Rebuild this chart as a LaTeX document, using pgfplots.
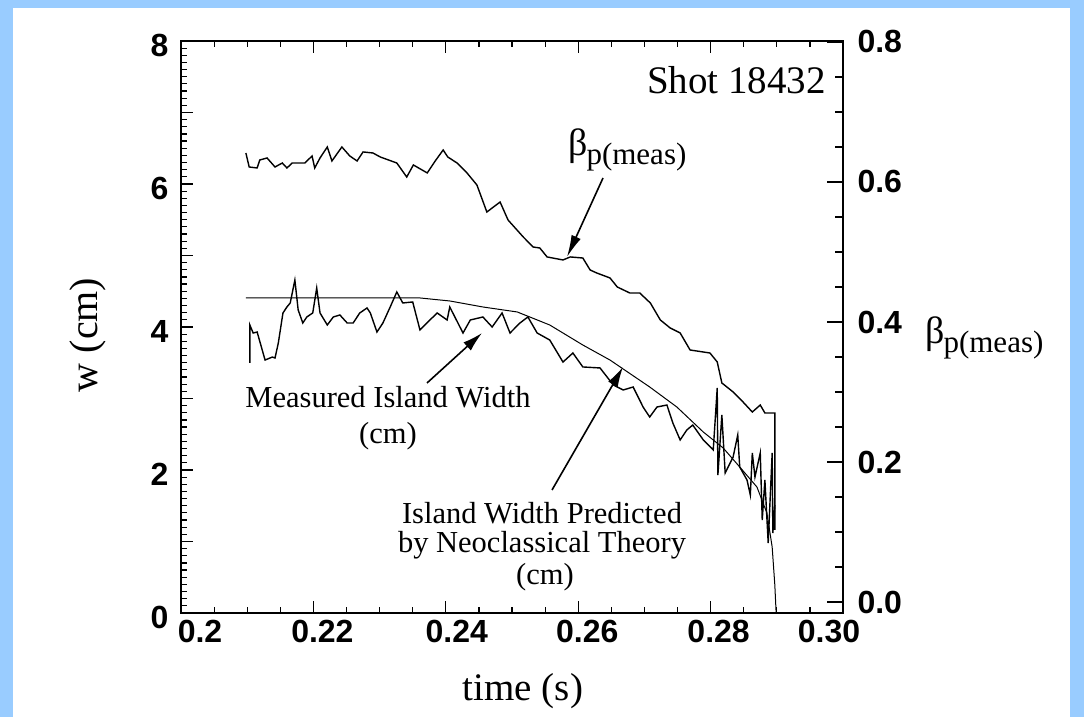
\documentclass[border=0pt]{standalone}
\usepackage{pgfplots}
\pgfplotsset{compat=1.18}
\usepackage{fontspec}
\setmainfont{Liberation Serif}
\setsansfont{Liberation Sans}
\usetikzlibrary{arrows.meta}
\definecolor{bgblue}{RGB}{153,204,255}

\begin{document}
\begin{tikzpicture}
\fill[white] (0pt,0pt) rectangle (1084pt,717pt);
\fill[bgblue] (0pt,0pt) rectangle (13pt,717pt);
\fill[bgblue] (1070pt,0pt) rectangle (1084pt,717pt);
\fill[bgblue] (0pt,709pt) rectangle (1084pt,717pt);

\begin{axis}[
  at={(181pt,104pt)}, anchor=south west,
  scale only axis, width=662pt, height=572pt,
  xmin=0.2, xmax=0.30, ymin=0, ymax=8,
  xtick={0.2,0.22,0.24,0.26,0.28,0.30},
  xticklabels={\hspace*{38pt}0.2,\hspace*{18pt}0.22,\hspace*{22pt}0.24,\hspace*{18pt}0.26,\hspace*{16pt}0.28,0.30\hspace*{28pt}},
  minor x tick num=3,
  ytick={0,1,...,8},
  yticklabels={0,,2,,4,,6,,8},
  minor y tick num=9,
  ytick pos=left,
  axis line style={line width=1.6pt},
  every tick/.style={black, line width=1.2pt},
  major tick length=12pt, minor tick length=6pt,
  /pgf/number format/assume math mode=true,
  ticklabel style={font=\fontsize{32}{32}\selectfont\sffamily\bfseries},
  xticklabel style={yshift=-4pt},
  yticklabel style={xshift=-9pt, yshift=-4pt},
  clip=false,
]
% Measured island width (cm)
\addplot[black, line width=1.4pt] coordinates {
(0.2104,3.497) (0.2104,4.028) (0.2109,3.916) (0.2115,3.930) (0.2127,3.538)
(0.2138,3.580) (0.2142,3.566) (0.2147,3.776) (0.2154,4.196) (0.2160,4.280)
(0.2165,4.336) (0.2172,4.657) (0.2177,4.238) (0.2184,4.056) (0.2190,4.140)
(0.2199,4.196) (0.2205,4.545) (0.2210,4.196) (0.2221,4.028) (0.2230,4.140)
(0.2240,4.168) (0.2251,4.056) (0.2260,4.056) (0.2270,4.196) (0.2281,4.266)
(0.2286,4.196) (0.2296,3.930) (0.2305,4.056) (0.2316,4.280) (0.2326,4.490)
(0.2335,4.336) (0.2350,4.350) (0.2361,3.958) (0.2376,4.098) (0.2387,4.196)
(0.2402,4.098) (0.2406,4.280) (0.2426,3.916) (0.2437,4.098) (0.2456,4.140)
(0.2470,4.000) (0.2485,4.196) (0.2497,3.916) (0.2512,4.056) (0.2524,4.140)
(0.2538,3.916) (0.2557,3.818) (0.2577,3.510) (0.2592,3.636) (0.2607,3.441)
(0.2633,3.427) (0.2653,3.189) (0.2668,3.119) (0.2683,3.161) (0.2698,2.881)
(0.2708,2.741) (0.2719,2.881) (0.2734,2.909) (0.2743,2.657) (0.2754,2.420)
(0.2764,2.559) (0.2773,2.629) (0.2789,2.420) (0.2804,2.280) (0.2810,3.147)
(0.2811,1.930) (0.2817,2.769) (0.2822,1.958) (0.2834,2.182) (0.2841,2.490)
(0.2844,2.042) (0.2855,1.860) (0.2860,1.650) (0.2863,2.238) (0.2867,1.902)
(0.2875,2.238) (0.2878,1.301) (0.2882,1.860) (0.2887,0.979) (0.2893,2.238)
(0.2894,1.119) (0.2897,1.510)
};
% Neoclassical theory prediction (cm)
\addplot[black, line width=1.0pt] coordinates {
(0.2098,4.406) (0.2361,4.406) (0.2406,4.364) (0.2456,4.280) (0.2508,4.210)
(0.2557,4.028) (0.2607,3.748) (0.2648,3.538) (0.2708,3.161) (0.2749,2.881)
(0.2789,2.531) (0.2819,2.308) (0.2844,2.042) (0.2870,1.762) (0.2885,1.399)
(0.2893,0.923) (0.2897,0.392) (0.2899,0.0)
};
\end{axis}

\begin{axis}[
  at={(181pt,104pt)}, anchor=south west,
  scale only axis, width=662pt, height=572pt,
  xmin=0.2, xmax=0.30, ymin=-0.0157, ymax=0.8014,
  axis x line=none, axis y line*=right,
  ytick={0,0.2,0.4,0.6,0.8},
  yticklabels={0.0,0.2,0.4,0.6,0.8},
  minor y tick num=3,
  axis line style={line width=1.6pt},
  every tick/.style={black, line width=1.2pt},
  major tick length=16pt, minor tick length=8pt,
  /pgf/number format/assume math mode=true,
  ticklabel style={font=\fontsize{32}{32}\selectfont\sffamily\bfseries},
  yticklabel style={xshift=11pt},
]
% beta_p (meas)
\addplot[black, line width=1.4pt] coordinates {
(0.2098,0.6414) (0.2103,0.6214) (0.2115,0.6200) (0.2119,0.6314) (0.2130,0.6343)
(0.2142,0.6214) (0.2153,0.6271) (0.2160,0.6200) (0.2168,0.6271) (0.2187,0.6271)
(0.2198,0.6371) (0.2202,0.6200) (0.2210,0.6343) (0.2221,0.6500) (0.2228,0.6300)
(0.2243,0.6500) (0.2255,0.6371) (0.2266,0.6300) (0.2275,0.6429) (0.2290,0.6414)
(0.2301,0.6357) (0.2326,0.6271) (0.2341,0.6071) (0.2351,0.6243) (0.2372,0.6129)
(0.2384,0.6300) (0.2396,0.6457) (0.2403,0.6357) (0.2417,0.6271) (0.2432,0.6129)
(0.2447,0.5957) (0.2462,0.5571) (0.2482,0.5714) (0.2494,0.5457) (0.2517,0.5214)
(0.2532,0.5071) (0.2542,0.5057) (0.2553,0.4929) (0.2577,0.4886) (0.2588,0.4929)
(0.2607,0.4914) (0.2618,0.4743) (0.2628,0.4700) (0.2648,0.4629) (0.2659,0.4500)
(0.2678,0.4414) (0.2693,0.4414) (0.2709,0.4271) (0.2724,0.4029) (0.2739,0.3914)
(0.2754,0.3843) (0.2769,0.3600) (0.2799,0.3557) (0.2810,0.3429) (0.2817,0.3129)
(0.2834,0.3000) (0.2849,0.2857) (0.2863,0.2714) (0.2875,0.2814) (0.2882,0.2700)
(0.2897,0.2700) (0.2897,0.1029)
};
\end{axis}

% annotations
\node[anchor=east, inner sep=0pt, font=\fontsize{39}{39}\selectfont] at (826pt,637pt) {Shot 18432};
\node[anchor=base west, inner sep=0pt] at (568pt,561pt) {\fontsize{38}{38}\selectfont β\hspace{-1pt}\raisebox{-9pt}{\fontsize{31}{31}\selectfont p(meas)}};
\node[anchor=base west, inner sep=0pt] at (925pt,373pt) {\fontsize{38}{38}\selectfont β\hspace{-1pt}\raisebox{-9pt}{\fontsize{31}{31}\selectfont p(meas)}};
\node[anchor=base, inner sep=0pt, font=\fontsize{30.5}{30.5}\selectfont] at (388pt,309pt) {Measured Island Width};
\node[anchor=base, inner sep=0pt, font=\fontsize{30.5}{30.5}\selectfont] at (388pt,273pt) {(cm)};
\node[anchor=base, inner sep=0pt, font=\fontsize{30.5}{30.5}\selectfont] at (542pt,193pt) {Island Width Predicted};
\node[anchor=base, inner sep=0pt, font=\fontsize{30.5}{30.5}\selectfont] at (542pt,164pt) {by Neoclassical Theory};
\node[anchor=base, inner sep=0pt, font=\fontsize{30.5}{30.5}\selectfont] at (545pt,132pt) {(cm)};
\node[rotate=90, inner sep=0pt, font=\fontsize{40}{40}\selectfont] at (88pt,382pt) {w (cm)};
\node[inner sep=0pt, font=\fontsize{39}{39}\selectfont] at (523pt,26pt) {time (s)};

\draw[line width=1.6pt, -{Latex[length=22pt,width=10pt]}] (603pt,539pt) -- (567pt,460pt);
\draw[line width=1.6pt, -{Latex[length=20pt,width=11pt]}] (427pt,334pt) -- (482pt,384pt);
\draw[line width=1.6pt, -{Latex[length=20pt,width=11pt]}] (552pt,227pt) -- (623pt,350pt);
\end{tikzpicture}
\end{document}
